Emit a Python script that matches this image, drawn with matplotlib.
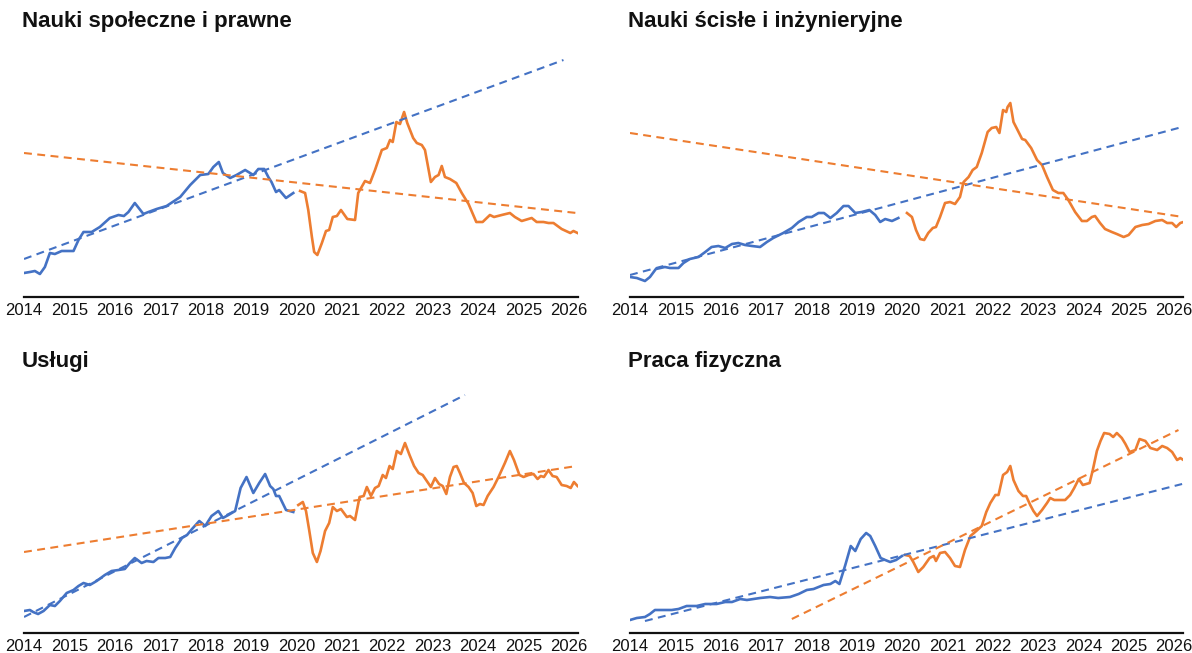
import matplotlib.pyplot as plt

plt.rcParams['font.family'] = ['Liberation Sans', 'DejaVu Sans']

BLUE = '#4472C4'
ORANGE = '#ED7D31'

years = list(range(2014, 2027))
year_labels = [str(y) for y in years]
titles = ['Nauki społeczne i prawne', 'Nauki ścisłe i inżynieryjne', 'Usługi', 'Praca fizyczna']

# --- Nauki społeczne i prawne ---
spol_blue_t = [2014.0, 2014.13, 2014.24, 2014.35, 2014.46, 2014.57, 2014.68, 2014.83, 2015.09, 2015.2,
               2015.31, 2015.49, 2015.67, 2015.89, 2016.08, 2016.2, 2016.3, 2016.44, 2016.63, 2016.74,
               2016.92, 2017.14, 2017.44, 2017.66, 2017.88, 2018.06, 2018.17, 2018.29, 2018.38, 2018.54,
               2018.68, 2018.87, 2019.05, 2019.16, 2019.29, 2019.38, 2019.45, 2019.55, 2019.62, 2019.77, 2019.93]
spol_blue_v = [24, 25, 26, 23, 30, 44, 43, 46, 46, 57,
               65, 65, 70, 79, 82, 81, 85, 94, 83, 85,
               88, 91, 100, 112, 122, 123, 130, 135, 124, 119,
               122, 127, 122, 128, 128, 120, 115, 105, 107, 99, 104]
spol_orange_t = [2020.08, 2020.19, 2020.26, 2020.34, 2020.39, 2020.46, 2020.56, 2020.65, 2020.72, 2020.8,
                 2020.89, 2020.98, 2021.12, 2021.29, 2021.36, 2021.51, 2021.62, 2021.73, 2021.88, 2021.99,
                 2022.06, 2022.12, 2022.2, 2022.28, 2022.37, 2022.44, 2022.57, 2022.65, 2022.76, 2022.83,
                 2022.96, 2023.05, 2023.13, 2023.2, 2023.27, 2023.38, 2023.52, 2023.64, 2023.79, 2023.96,
                 2024.1, 2024.26, 2024.35, 2024.52, 2024.7, 2024.81, 2024.96, 2025.18, 2025.29, 2025.44,
                 2025.55, 2025.66, 2025.84, 2026.03, 2026.1, 2026.19]
spol_orange_v = [106, 104, 87, 60, 45, 42, 54, 66, 67, 80,
                 81, 87, 78, 77, 104, 116, 114, 127, 147, 149,
                 157, 155, 175, 173, 185, 174, 159, 154, 152, 147,
                 115, 120, 122, 131, 120, 118, 114, 104, 93, 75,
                 75, 82, 80, 82, 84, 80, 76, 79, 75, 75,
                 74, 74, 68, 64, 66, 64]
spol_blue_trend_t = [2014.0, 2025.88]
spol_blue_trend_v = [38, 237]
spol_orange_trend_t = [2014.0, 2026.17]
spol_orange_trend_v = [144, 84]

# --- Nauki ścisłe i inżynieryjne ---
scis_blue_t = [2014.0, 2014.15, 2014.33, 2014.44, 2014.57, 2014.77, 2014.88, 2015.07, 2015.18, 2015.32,
               2015.51, 2015.66, 2015.8, 2015.95, 2016.1, 2016.25, 2016.39, 2016.54, 2016.69, 2016.87,
               2017.02, 2017.16, 2017.38, 2017.57, 2017.72, 2017.9, 2018.01, 2018.16, 2018.28, 2018.42,
               2018.56, 2018.71, 2018.82, 2018.97, 2019.11, 2019.28, 2019.41, 2019.52, 2019.63, 2019.78, 2019.92]
scis_blue_v = [20, 19, 16, 20, 28, 30, 29, 29, 34, 38,
               40, 45, 50, 51, 49, 53, 54, 52, 51, 50,
               55, 59, 64, 69, 75, 80, 80, 84, 84, 79,
               84, 91, 91, 84, 85, 87, 82, 75, 78, 76, 79]
scis_orange_t = [2020.11, 2020.22, 2020.31, 2020.4, 2020.49, 2020.58, 2020.68, 2020.75, 2020.84, 2020.95,
                 2021.06, 2021.17, 2021.28, 2021.36, 2021.47, 2021.56, 2021.65, 2021.76, 2021.89, 2021.98,
                 2022.08, 2022.15, 2022.23, 2022.3, 2022.33, 2022.39, 2022.46, 2022.55, 2022.65, 2022.72,
                 2022.85, 2022.98, 2023.09, 2023.2, 2023.33, 2023.45, 2023.56, 2023.67, 2023.82, 2023.97,
                 2024.08, 2024.19, 2024.26, 2024.37, 2024.48, 2024.63, 2024.74, 2024.89, 2025.0, 2025.15,
                 2025.3, 2025.44, 2025.59, 2025.74, 2025.85, 2025.96, 2026.05, 2026.14, 2026.21]
scis_orange_v = [84, 80, 67, 58, 57, 64, 69, 70, 80, 94,
                 95, 93, 100, 115, 120, 127, 130, 144, 165, 169,
                 170, 164, 187, 185, 190, 194, 175, 167, 158, 157,
                 149, 137, 132, 120, 107, 104, 104, 97, 85, 76,
                 76, 80, 81, 74, 68, 65, 63, 60, 62, 70,
                 72, 73, 76, 77, 74, 74, 70, 74, 75]
scis_blue_trend_t = [2014.0, 2026.18]
scis_blue_trend_v = [22, 170]
scis_orange_trend_t = [2014.0, 2026.2]
scis_orange_trend_v = [164, 80]

# --- Usługi ---
usl_blue_t = [2014.0, 2014.13, 2014.2, 2014.31, 2014.43, 2014.57, 2014.68, 2014.79, 2014.94, 2015.09,
              2015.2, 2015.31, 2015.45, 2015.6, 2015.78, 2015.93, 2016.08, 2016.22, 2016.33, 2016.44,
              2016.59, 2016.7, 2016.85, 2016.96, 2017.11, 2017.22, 2017.33, 2017.48, 2017.59, 2017.7,
              2017.86, 2017.99, 2018.13, 2018.28, 2018.38, 2018.5, 2018.65, 2018.77, 2018.9, 2019.05,
              2019.18, 2019.31, 2019.42, 2019.49, 2019.55, 2019.62, 2019.77, 2019.93]
usl_blue_v = [22, 23, 21, 19, 22, 28, 27, 32, 40, 43,
              47, 50, 48, 52, 58, 62, 63, 64, 70, 75,
              70, 72, 71, 75, 75, 76, 85, 95, 98, 104,
              112, 107, 117, 122, 115, 118, 122, 145, 156, 140,
              150, 159, 147, 144, 137, 137, 123, 121]
usl_orange_t = [2020.04, 2020.14, 2020.21, 2020.28, 2020.36, 2020.45, 2020.53, 2020.63, 2020.72, 2020.8,
                2020.89, 2020.98, 2021.11, 2021.18, 2021.29, 2021.39, 2021.48, 2021.55, 2021.64, 2021.73,
                2021.81, 2021.9, 2021.97, 2022.05, 2022.12, 2022.21, 2022.3, 2022.39, 2022.49, 2022.59,
                2022.69, 2022.78, 2022.87, 2022.96, 2023.05, 2023.14, 2023.22, 2023.3, 2023.38, 2023.46,
                2023.53, 2023.6, 2023.69, 2023.79, 2023.88, 2023.96, 2024.04, 2024.12, 2024.21, 2024.34,
                2024.45, 2024.59, 2024.7, 2024.79, 2024.91, 2025.0, 2025.11, 2025.22, 2025.31, 2025.38,
                2025.45, 2025.55, 2025.64, 2025.73, 2025.84, 2025.95, 2026.04, 2026.11, 2026.19]
usl_orange_v = [128, 131, 122, 103, 80, 71, 82, 102, 110, 126,
                122, 124, 116, 117, 113, 136, 137, 146, 137, 145,
                147, 158, 155, 167, 164, 182, 179, 190, 178, 167,
                160, 158, 152, 146, 155, 149, 147, 139, 156, 166,
                167, 160, 150, 146, 140, 127, 129, 128, 137, 146,
                156, 170, 182, 173, 158, 156, 158, 159, 154, 157,
                156, 163, 157, 156, 148, 147, 145, 151, 147]
usl_blue_trend_t = [2014.0, 2023.71]
usl_blue_trend_v = [16, 238]
usl_orange_trend_t = [2014.0, 2026.17]
usl_orange_trend_v = [81, 167]

# --- Praca fizyczna ---
fiz_blue_t = [2014.0, 2014.15, 2014.33, 2014.44, 2014.55, 2014.74, 2014.92, 2015.07, 2015.25, 2015.47,
              2015.66, 2015.91, 2016.1, 2016.25, 2016.43, 2016.58, 2016.87, 2017.09, 2017.27, 2017.53,
              2017.72, 2017.9, 2018.05, 2018.27, 2018.42, 2018.53, 2018.62, 2018.75, 2018.87, 2018.97,
              2019.09, 2019.21, 2019.3, 2019.41, 2019.53, 2019.63, 2019.74, 2019.87, 2020.0]
fiz_blue_v = [13, 15, 16, 19, 23, 23, 23, 24, 27, 27,
              29, 29, 31, 31, 34, 33, 35, 36, 35, 36,
              39, 43, 44, 48, 49, 52, 49, 68, 87, 82,
              94, 100, 97, 87, 75, 73, 71, 73, 77]
fiz_orange_t = [2020.07, 2020.17, 2020.25, 2020.36, 2020.47, 2020.61, 2020.7, 2020.75, 2020.84, 2020.95,
                2021.06, 2021.17, 2021.28, 2021.39, 2021.51, 2021.64, 2021.76, 2021.86, 2021.95, 2022.06,
                2022.13, 2022.23, 2022.32, 2022.39, 2022.46, 2022.57, 2022.67, 2022.74, 2022.83, 2022.9,
                2022.98, 2023.09, 2023.2, 2023.27, 2023.36, 2023.49, 2023.6, 2023.71, 2023.8, 2023.9,
                2023.99, 2024.14, 2024.21, 2024.3, 2024.38, 2024.46, 2024.58, 2024.66, 2024.74, 2024.85,
                2024.93, 2025.02, 2025.15, 2025.24, 2025.37, 2025.48, 2025.63, 2025.74, 2025.85, 2025.96,
                2026.07, 2026.14, 2026.21]
fiz_orange_v = [78, 77, 71, 61, 66, 75, 77, 72, 80, 81,
                75, 67, 66, 83, 97, 102, 107, 121, 130, 138,
                138, 158, 161, 167, 153, 142, 137, 137, 128, 122,
                117, 123, 130, 135, 133, 133, 133, 138, 145, 154,
                148, 150, 163, 182, 192, 200, 199, 196, 200, 195,
                189, 181, 183, 194, 192, 185, 183, 187, 185, 181,
                173, 175, 173]
fiz_blue_trend_t = [2014.33, 2026.18]
fiz_blue_trend_v = [12, 149]
fiz_orange_trend_t = [2017.57, 2026.1]
fiz_orange_trend_v = [14, 203]

panels = [
    (spol_blue_t, spol_blue_v, spol_orange_t, spol_orange_v,
     spol_blue_trend_t, spol_blue_trend_v, spol_orange_trend_t, spol_orange_trend_v),
    (scis_blue_t, scis_blue_v, scis_orange_t, scis_orange_v,
     scis_blue_trend_t, scis_blue_trend_v, scis_orange_trend_t, scis_orange_trend_v),
    (usl_blue_t, usl_blue_v, usl_orange_t, usl_orange_v,
     usl_blue_trend_t, usl_blue_trend_v, usl_orange_trend_t, usl_orange_trend_v),
    (fiz_blue_t, fiz_blue_v, fiz_orange_t, fiz_orange_v,
     fiz_blue_trend_t, fiz_blue_trend_v, fiz_orange_trend_t, fiz_orange_trend_v),
]

W, H = 1192, 653
fig = plt.figure(figsize=(W / 100, H / 100), dpi=100)

# axes boxes in pixels: left, right, axis line y
boxes = [(24, 578, 297), (630, 1183, 297), (24, 578, 633), (630, 1183, 633)]
title_pos = [(22, 22), (628, 22), (22, 362), (628, 362)]
ymax = 250

for i, (bt, bv, ot, ov, btt, btv, ott, otv) in enumerate(panels):
    x0, x1, yb = boxes[i]
    ax = fig.add_axes([x0 / W, (H - yb) / H, (x1 - x0) / W, ymax / H])
    ax.plot(bt, bv, color=BLUE, lw=1.9, solid_joinstyle='round')
    ax.plot(ot, ov, color=ORANGE, lw=1.9, solid_joinstyle='round')
    ax.plot(btt, btv, color=BLUE, lw=1.5, dashes=(3.8, 2.6))
    ax.plot(ott, otv, color=ORANGE, lw=1.5, dashes=(3.8, 2.6))
    ax.set_xlim(2014.0, 2026.2)
    ax.set_ylim(0, ymax)
    ax.set_xticks(years)
    ax.set_xticklabels(year_labels, fontsize=12, color='#111111')
    ax.tick_params(axis='x', length=0, pad=4)
    ax.set_yticks([])
    for s in ['top', 'right', 'left']:
        ax.spines[s].set_visible(False)
    ax.spines['bottom'].set_linewidth(1.6)
    ax.spines['bottom'].set_color('#111111')
    tx, ty = title_pos[i]
    fig.text(tx / W, 1 - ty / H, titles[i], fontsize=16, fontweight='bold',
             ha='left', va='center', color='#111111')

fig.savefig('out.png', dpi=100, facecolor='white')
